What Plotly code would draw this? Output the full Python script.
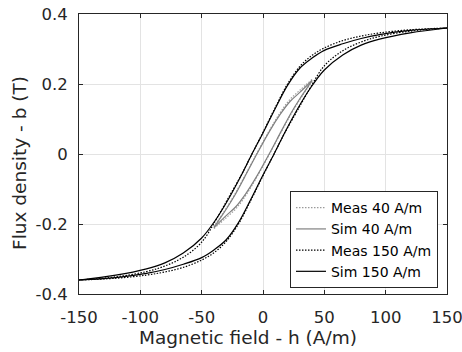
import plotly.graph_objects as go

# ---- data ----
# Sim 150 A/m (major loop)
H_SIM150_DESC = [150, 120, 95, 80, 65, 50, 40, 30, 20, 10, 0, -9, -18, -28, -38, -50, -65, -80, -95, -120, -150]
B_SIM150_DESC = [0.360, 0.353, 0.341, 0.330, 0.315, 0.296, 0.274, 0.245, 0.196, 0.130, 0.060, 0.000, -0.063, -0.128, -0.185, -0.240, -0.283, -0.311, -0.328, -0.346, -0.360]
H_SIM150_ASC = [-150, -120, -95, -80, -65, -50, -40, -30, -20, -10, 0, 9, 18, 28, 38, 50, 65, 80, 95, 120, 150]
B_SIM150_ASC = [-0.360, -0.353, -0.341, -0.330, -0.315, -0.296, -0.274, -0.245, -0.196, -0.130, -0.060, 0.000, 0.063, 0.128, 0.185, 0.240, 0.283, 0.311, 0.328, 0.346, 0.360]

# Meas 150 A/m
H_MEAS150_DESC = [150, 120, 95, 80, 65, 50, 40, 30, 20, 10, 0, -9, -18, -28, -38, -50, -65, -80, -95, -120, -150]
B_MEAS150_DESC = [0.360, 0.355, 0.346, 0.337, 0.324, 0.303, 0.282, 0.250, 0.200, 0.133, 0.062, 0.000, -0.062, -0.124, -0.186, -0.252, -0.295, -0.320, -0.336, -0.351, -0.360]
H_MEAS150_ASC = [-150, -120, -95, -80, -65, -50, -40, -30, -20, -10, 0, 9, 18, 28, 38, 50, 65, 80, 95, 120, 150]
B_MEAS150_ASC = [-0.360, -0.355, -0.346, -0.337, -0.324, -0.303, -0.282, -0.250, -0.200, -0.133, -0.062, 0.000, 0.062, 0.124, 0.186, 0.252, 0.295, 0.320, 0.336, 0.351, 0.360]

# Sim 40 A/m (minor loop)
H_SIM40_DESC = [40, 30, 22, 14, 6, -5, -15, -23, -30, -35, -40]
B_SIM40_DESC = [0.210, 0.176, 0.150, 0.113, 0.069, 0.000, -0.066, -0.118, -0.158, -0.184, -0.210]
H_SIM40_ASC = [-40, -30, -22, -14, -6, 5, 15, 23, 30, 35, 40]
B_SIM40_ASC = [-0.210, -0.176, -0.150, -0.113, -0.069, 0.000, 0.066, 0.118, 0.158, 0.184, 0.210]

# Meas 40 A/m
H_MEAS40_DESC = [40, 30, 22, 14, 6, -5, -15, -23, -30, -35, -40]
B_MEAS40_DESC = [0.213, 0.182, 0.156, 0.118, 0.072, 0.002, -0.064, -0.115, -0.155, -0.182, -0.207]
H_MEAS40_ASC = [-40, -30, -22, -14, -6, 5, 15, 23, 30, 35, 40]
B_MEAS40_ASC = [-0.213, -0.182, -0.156, -0.118, -0.072, -0.002, 0.064, 0.115, 0.155, 0.182, 0.207]

X_TICKS = [-150, -100, -50, 0, 50, 100, 150]
X_TICK_LABELS = ["-150", "-100", "-50", "0", "50", "100", "150"]
Y_TICKS = [-0.4, -0.2, 0, 0.2, 0.4]
Y_TICK_LABELS = ["-0.4", "-0.2", "0", "0.2", "0.4"]

FONT = "DejaVu Sans"
AXC = "#262626"

fig = go.Figure()

def add_loop(name, hd, bd, ha, ba, color, dash):
    fig.add_trace(go.Scatter(
        x=hd + [None] + ha, y=bd + [None] + ba,
        mode="lines", name=name,
        line=dict(color=color, width=1.2, dash=dash, shape="spline"),
        connectgaps=False,
    ))

add_loop("Meas 40 A/m", H_MEAS40_DESC, B_MEAS40_DESC, H_MEAS40_ASC, B_MEAS40_ASC, "#9a9a9a", "1.5px,1.5px")
add_loop("Sim 40 A/m", H_SIM40_DESC, B_SIM40_DESC, H_SIM40_ASC, B_SIM40_ASC, "#808080", "solid")
add_loop("Meas 150 A/m", H_MEAS150_DESC, B_MEAS150_DESC, H_MEAS150_ASC, B_MEAS150_ASC, "#000000", "1.5px,1.5px")
add_loop("Sim 150 A/m", H_SIM150_DESC, B_SIM150_DESC, H_SIM150_ASC, B_SIM150_ASC, "#000000", "solid")

axis_common = dict(
    showline=True, linecolor=AXC, linewidth=1, mirror="ticks",
    ticks="inside", ticklen=4, tickcolor=AXC, tickwidth=1,
    showgrid=True, gridcolor="#e3e3e3", gridwidth=1, zeroline=False,
    automargin=False, ticklabeloverflow="allow",
    tickfont=dict(family=FONT, size=16.5, color=AXC),
)

fig.update_layout(
    width=462, height=352,
    margin=dict(l=79, r=15, t=14, b=58),
    plot_bgcolor="white", paper_bgcolor="white",
    font=dict(family=FONT, color=AXC),
    xaxis=dict(range=[-150, 150], tickvals=X_TICKS, ticktext=X_TICK_LABELS,
               ticklabelstandoff=8, **axis_common),
    yaxis=dict(range=[-0.4, 0.4], tickvals=Y_TICKS, ticktext=Y_TICK_LABELS,
               ticklabelstandoff=7, **axis_common),
    legend=dict(x=0.9755, xanchor="right", y=0.021, yanchor="bottom",
                bgcolor="white", bordercolor=AXC, borderwidth=1,
                font=dict(family=FONT, size=14, color="#000000"),
                itemwidth=30),
    showlegend=True,
    annotations=[
        dict(text="Magnetic field - h (A/m)", xref="paper", yref="paper",
             x=0.4592, y=-0.157, xanchor="center", yanchor="middle",
             showarrow=False, font=dict(family=FONT, size=18.5, color=AXC)),
        dict(text="Flux density - b (T)", xref="paper", yref="paper",
             x=-0.1603, y=0.468, xanchor="center", yanchor="middle", textangle=-90,
             showarrow=False, font=dict(family=FONT, size=18.5, color=AXC)),
    ],
)

# remove the browser's default 8px body margin so the figure fills the window
fig.write_html("out.html", config={"displayModeBar": False},
               post_script="document.body.style.margin='0px';")
